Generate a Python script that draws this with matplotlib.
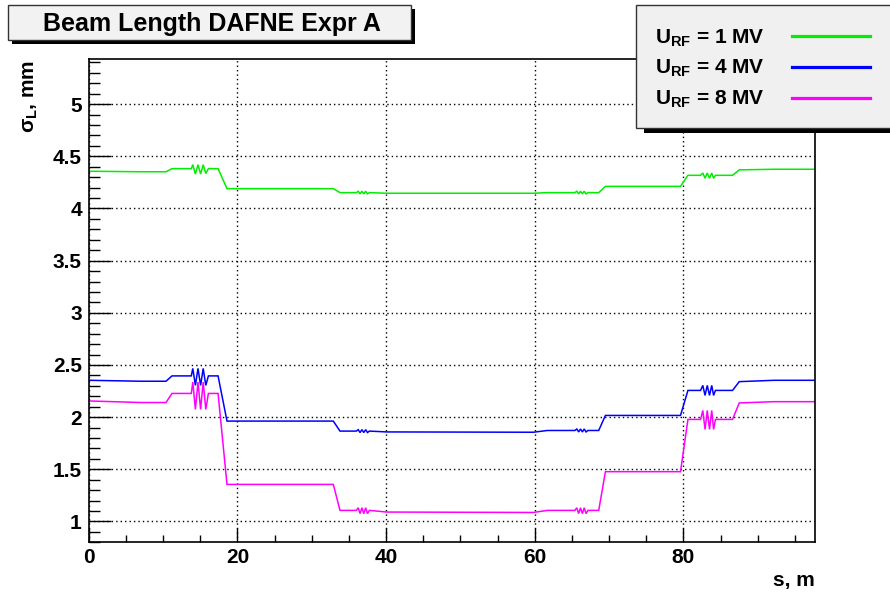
import matplotlib
matplotlib.use('Agg')
import matplotlib.pyplot as plt
from matplotlib.patches import Rectangle
from matplotlib.lines import Line2D
from matplotlib.ticker import MultipleLocator

plt.rcParams['font.family'] = ['Liberation Sans', 'DejaVu Sans']
plt.rcParams['font.weight'] = 'bold'
plt.rcParams['mathtext.fontset'] = 'custom'
plt.rcParams['mathtext.rm'] = 'Liberation Sans:bold'
plt.rcParams['mathtext.it'] = 'Liberation Sans:bold'
plt.rcParams['mathtext.bf'] = 'Liberation Sans:bold'

# ---------------- data ----------------
s_pos = [0, 7, 10.4, 11.2, 13.8,
         14.0, 14.35, 14.7, 15.05, 15.4, 15.75,
         16.1, 17.4, 18.6, 32.9, 33.8,
         36.0, 36.25, 36.5, 36.75, 37.0, 37.25, 37.5, 37.75,
         40.1, 59.8, 61.7,
         65.4, 65.65, 65.9, 66.15, 66.4, 66.65, 66.9, 67.15,
         68.6, 69.5, 79.6, 80.6,
         82.3, 82.6, 82.9, 83.2, 83.5, 83.8, 84.05, 84.3,
         86.6, 87.5, 92.2, 97.69]

sigma_1mv = [4.357, 4.352, 4.352, 4.382, 4.382,
             4.42, 4.33, 4.42, 4.33, 4.42, 4.335,
             4.382, 4.382, 4.19, 4.19, 4.152,
             4.152, 4.165, 4.14, 4.165, 4.14, 4.165, 4.14, 4.152,
             4.146, 4.146, 4.152,
             4.152, 4.165, 4.14, 4.165, 4.14, 4.165, 4.14, 4.152,
             4.152, 4.212, 4.212, 4.318,
             4.318, 4.34, 4.29, 4.34, 4.29, 4.34, 4.29, 4.318,
             4.318, 4.37, 4.376, 4.376]

sigma_4mv = [2.353, 2.344, 2.344, 2.395, 2.395,
             2.467, 2.304, 2.467, 2.304, 2.467, 2.304,
             2.395, 2.395, 1.962, 1.962, 1.866,
             1.866, 1.88, 1.852, 1.88, 1.852, 1.88, 1.852, 1.866,
             1.858, 1.855, 1.872,
             1.872, 1.886, 1.858, 1.886, 1.858, 1.886, 1.858, 1.872,
             1.872, 2.016, 2.016, 2.256,
             2.256, 2.304, 2.208, 2.304, 2.208, 2.304, 2.208, 2.256,
             2.256, 2.34, 2.353, 2.353]

sigma_8mv = [2.155, 2.14, 2.14, 2.227, 2.227,
             2.336, 2.074, 2.336, 2.074, 2.336, 2.074,
             2.227, 2.227, 1.355, 1.355, 1.106,
             1.106, 1.131, 1.075, 1.131, 1.075, 1.131, 1.075, 1.106,
             1.09, 1.086, 1.106,
             1.106, 1.131, 1.075, 1.131, 1.075, 1.131, 1.075, 1.106,
             1.106, 1.477, 1.477, 1.978,
             1.978, 2.064, 1.882, 2.064, 1.882, 2.064, 1.882, 1.978,
             1.978, 2.136, 2.148, 2.148]

labels = [r'$\mathrm{U_{RF}}$ = 1 MV', r'$\mathrm{U_{RF}}$ = 4 MV', r'$\mathrm{U_{RF}}$ = 8 MV']
colors = ['#00ee00', '#0000ff', '#ff00ff']
series = [sigma_1mv, sigma_4mv, sigma_8mv]

x_ticks = [0, 20, 40, 60, 80]
y_ticks = [1, 1.5, 2, 2.5, 3, 3.5, 4, 4.5, 5]
y_tick_labels = ['1', '1.5', '2', '2.5', '3', '3.5', '4', '4.5', '5']

# ---------------- figure ----------------
W, H = 890, 596
fig = plt.figure(figsize=(W / 100, H / 100), dpi=100)
fig.patch.set_facecolor('white')

def fx(px):
    return px / W

def fy(py):
    return 1 - py / H

ax_l, ax_r, ax_t, ax_b = 88.7, 815, 59.3, 542.3
ax = fig.add_axes([fx(ax_l), fy(ax_b), (ax_r - ax_l) / W, (ax_b - ax_t) / H])

for ys, c in zip(series, colors):
    ax.plot(s_pos, ys, color=c, lw=1.1, solid_joinstyle='miter')

ax.set_xlim(0, 97.69)
ax.set_ylim(0.8, 5.43)
ax.set_xticks(x_ticks)
ax.set_xticklabels([str(v) for v in x_ticks])
ax.set_yticks(y_ticks)
ax.set_yticklabels(y_tick_labels)
ax.xaxis.set_minor_locator(MultipleLocator(5))
ax.yaxis.set_minor_locator(MultipleLocator(0.1))

ax.tick_params(axis='both', which='both', direction='in', top=False, right=False,
               labelsize=15, width=1.0, color='black')
ax.tick_params(axis='y', which='major', length=15.8, pad=5)
ax.tick_params(axis='y', which='minor', length=7.9)
ax.tick_params(axis='x', which='major', length=10.4, pad=4)
ax.tick_params(axis='x', which='minor', length=5.2)
for lab in ax.get_xticklabels() + ax.get_yticklabels():
    lab.set_fontweight('bold')

ax.grid(True, which='major', color='black', linestyle=(0, (1, 2.2)), linewidth=1.0)
for sp in ax.spines.values():
    sp.set_linewidth(1.2)

# axis titles
fig.text(fx(815), fy(586), 's, m', ha='right', va='baseline', fontsize=15, fontweight='bold')
fig.text(fx(30), fy(60), r'$\sigma_{L}$, mm', rotation=90, ha='center', va='top',
         fontsize=15, fontweight='bold')

# title box
sh = 4
fig.patches.append(Rectangle((fx(8 + sh), fy(40 + sh)), (411 - 8) / W, (40 - 5) / H,
                             transform=fig.transFigure, facecolor='black', edgecolor='none', zorder=1))
fig.patches.append(Rectangle((fx(8), fy(40)), (411 - 8) / W, (40 - 5) / H,
                             transform=fig.transFigure, facecolor='#f2f2f2', edgecolor='#333333',
                             lw=1.0, zorder=2))
fig.text(fx(212), fy(31.5), 'Beam Length DAFNE Expr A', ha='center', va='baseline',
         fontsize=18, fontweight='bold', zorder=3)

# legend box
fig.patches.append(Rectangle((fx(636 + 8), fy(128 + 5)), (900 - 636) / W, (128 - 5) / H,
                             transform=fig.transFigure, facecolor='black', edgecolor='none', zorder=1))
fig.patches.append(Rectangle((fx(636), fy(128)), (900 - 636) / W, (128 - 5) / H,
                             transform=fig.transFigure, facecolor='#f0f0f0', edgecolor='#333333',
                             lw=1.0, zorder=2))
text_base = [43.3, 73.8, 104.8]
line_y = [35.7, 66.7, 97.7]
for lab, c, tb, ly in zip(labels, colors, text_base, line_y):
    fig.text(fx(655), fy(tb), lab, ha='left', va='baseline', fontsize=15,
             fontweight='bold', zorder=3)
    fig.lines.append(Line2D([fx(792), fx(870)], [fy(ly), fy(ly)], transform=fig.transFigure,
                            color=c, lw=2.3, zorder=3))

fig.savefig('out.png', dpi=100)
